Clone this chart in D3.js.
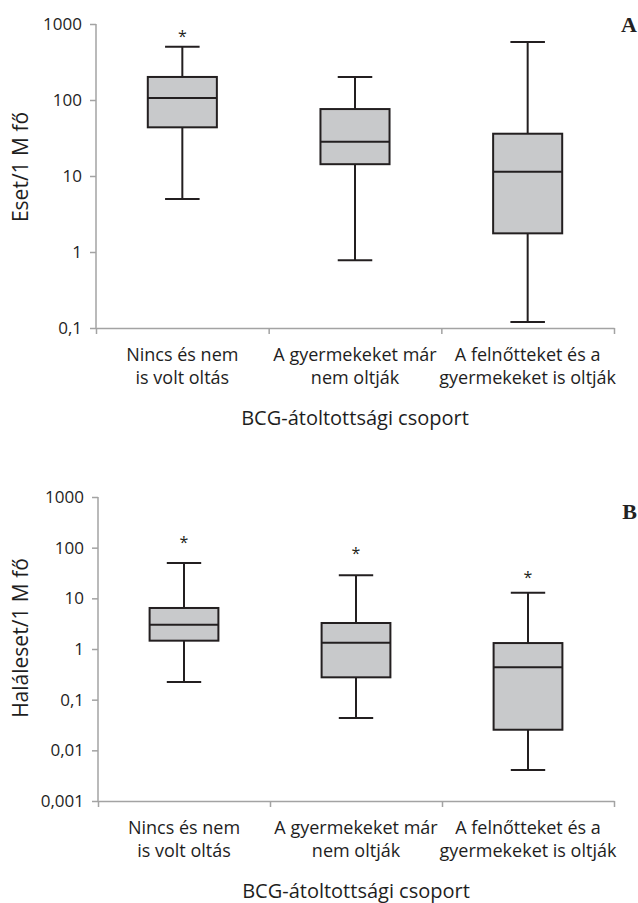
<!DOCTYPE html>
<html><head><meta charset="utf-8">
<script src="https://cdn.jsdelivr.net/npm/d3@7"></script>
<style>body{margin:0;background:#fff}svg{display:block}</style>
</head><body>
<svg id="c" width="638" height="903"></svg>
<script>
const categories = [["Nincs és nem","is volt oltás"],["A gyermekeket már","nem oltják"],["A felnőtteket és a","gyermekeket is oltják"]];
const xTitle = "BCG-átoltottsági csoport";

// Panel A: cases per 1M
const aWhiskerLow = [5, 0.78, 0.12];
const aQ1 = [43.7, 14.3, 1.76];
const aMedian = [106, 28.3, 11.4];
const aQ3 = [201, 76, 36];
const aWhiskerHigh = [503, 201, 580];
const aOutlier = [760, null, null];
const aTicks = [0.1, 1, 10, 100, 1000];
const aTickLabels = ["0,1","1","10","100","1000"];

// Panel B: deaths per 1M
const bWhiskerLow = [0.223, 0.0435, 0.0041];
const bQ1 = [1.46, 0.276, 0.0255];
const bMedian = [3.0, 1.33, 0.434];
const bQ3 = [6.45, 3.26, 1.31];
const bWhiskerHigh = [49.8, 28.5, 12.9];
const bOutlier = [150, 88, 30];
const bTicks = [0.001, 0.01, 0.1, 1, 10, 100, 1000];
const bTickLabels = ["0,001","0,01","0,1","1","10","100","1000"];

const svg = d3.select("#c");
const FONT = "'Open Sans', sans-serif";
const AXIS = "#a3a3a3", DARK = "#231f20", FILL = "#c8c9cb", TXT = "#1e1e1e";

function panel(o) {
  const g = svg.append("g");
  const y = d3.scaleLog().domain([o.ticks[0], o.ticks[o.ticks.length-1]]).range([o.yBottom, o.yTop]);
  const x = d3.scaleBand().domain(d3.range(3)).range([o.xLeft, o.xRight]);
  const edge = d3.scaleLinear().domain([0,3]).range([o.xLeft, o.xRight]);

  // y axis
  const ya = g.append("g").attr("transform", `translate(${o.xLeft},0)`)
    .call(d3.axisLeft(y).tickValues(o.ticks).tickFormat((d,i)=>o.tickLabels[i]).tickSize(6).tickPadding(8));
  ya.select(".domain").attr("stroke", AXIS).attr("stroke-width", 1.5).attr("d", `M0,${o.yTop}V${o.yBottom}`);
  ya.selectAll(".tick line").attr("stroke", AXIS).attr("stroke-width", 1.5);
  ya.selectAll(".tick text").attr("fill", TXT).style("font-family", FONT).style("font-size", "17px");

  // x axis
  const xa = g.append("g").attr("transform", `translate(0,${o.yBottom})`)
    .call(d3.axisBottom(edge).tickValues([0,1,2,3]).tickFormat("").tickSize(6).tickSizeOuter(0));
  xa.select(".domain").attr("stroke", AXIS).attr("stroke-width", 1.5);
  xa.selectAll(".tick line").attr("stroke", AXIS).attr("stroke-width", 1.5);

  // category labels
  categories.forEach((lines, i) => {
    const cx = x(i) + x.bandwidth()/2;
    const t = g.append("text").attr("x", cx).attr("y", o.yBottom + 33)
      .attr("text-anchor","middle").attr("fill",TXT).style("font-family",FONT).style("font-size","18px");
    lines.forEach((l, j) => t.append("tspan").attr("x", cx).attr("dy", j ? 22.5 : 0).text(l));
  });
  g.append("text").attr("x", (o.xLeft + o.xRight)/2).attr("y", o.yBottom + o.titleDy)
    .attr("text-anchor","middle").attr("fill",TXT).style("font-family",FONT).style("font-size","20px").text(xTitle);

  // y title
  g.append("text").attr("transform", `translate(${o.yTitleX},${o.yTitleY}) rotate(-90)`)
    .attr("text-anchor","middle").attr("fill",TXT).style("font-family",FONT).style("font-size","21px").text(o.yTitle);

  // panel letter
  g.append("text").attr("x", 637).attr("y", o.letterY).attr("text-anchor","end")
    .attr("fill","#222").style("font-family","'Liberation Serif', serif").style("font-weight","bold").style("font-size","22px").text(o.letter);

  // boxes
  const bw = x.bandwidth() * 0.4, cap = bw * 0.25;
  for (let i = 0; i < 3; i++) {
    const cx = x(i) + x.bandwidth()/2;
    const b = g.append("g").attr("stroke", DARK).attr("stroke-width", 2);
    b.append("line").attr("x1", cx).attr("x2", cx).attr("y1", y(o.wHigh[i])).attr("y2", y(o.q3[i]));
    b.append("line").attr("x1", cx).attr("x2", cx).attr("y1", y(o.q1[i])).attr("y2", y(o.wLow[i]));
    b.append("line").attr("x1", cx-cap).attr("x2", cx+cap).attr("y1", y(o.wHigh[i])).attr("y2", y(o.wHigh[i]));
    b.append("line").attr("x1", cx-cap).attr("x2", cx+cap).attr("y1", y(o.wLow[i])).attr("y2", y(o.wLow[i]));
    b.append("rect").attr("x", cx-bw/2).attr("width", bw).attr("y", y(o.q3[i])).attr("height", y(o.q1[i]) - y(o.q3[i])).attr("fill", FILL);
    b.append("line").attr("x1", cx-bw/2).attr("x2", cx+bw/2).attr("y1", y(o.med[i])).attr("y2", y(o.med[i]));
    if (o.out[i] != null) {
      g.append("text").attr("x", cx).attr("y", y(o.out[i]) + 9).attr("text-anchor","middle")
        .attr("fill", DARK).style("font-family",FONT).style("font-size","16px").text("*");
    }
  }
}

panel({ticks:aTicks, tickLabels:aTickLabels, yTop:24, yBottom:328, xLeft:96, xRight:614,
  wLow:aWhiskerLow, q1:aQ1, med:aMedian, q3:aQ3, wHigh:aWhiskerHigh, out:aOutlier,
  yTitle:"Eset/1 M fő", yTitleX:28, yTitleY:167, letter:"A", letterY:32, titleDy:97});
panel({ticks:bTicks, tickLabels:bTickLabels, yTop:497, yBottom:801, xLeft:98, xRight:614,
  wLow:bWhiskerLow, q1:bQ1, med:bMedian, q3:bQ3, wHigh:bWhiskerHigh, out:bOutlier,
  yTitle:"Haláleset/1 M fő", yTitleX:28, yTitleY:638, letter:"B", letterY:519, titleDy:97});
</script>
</body></html>
